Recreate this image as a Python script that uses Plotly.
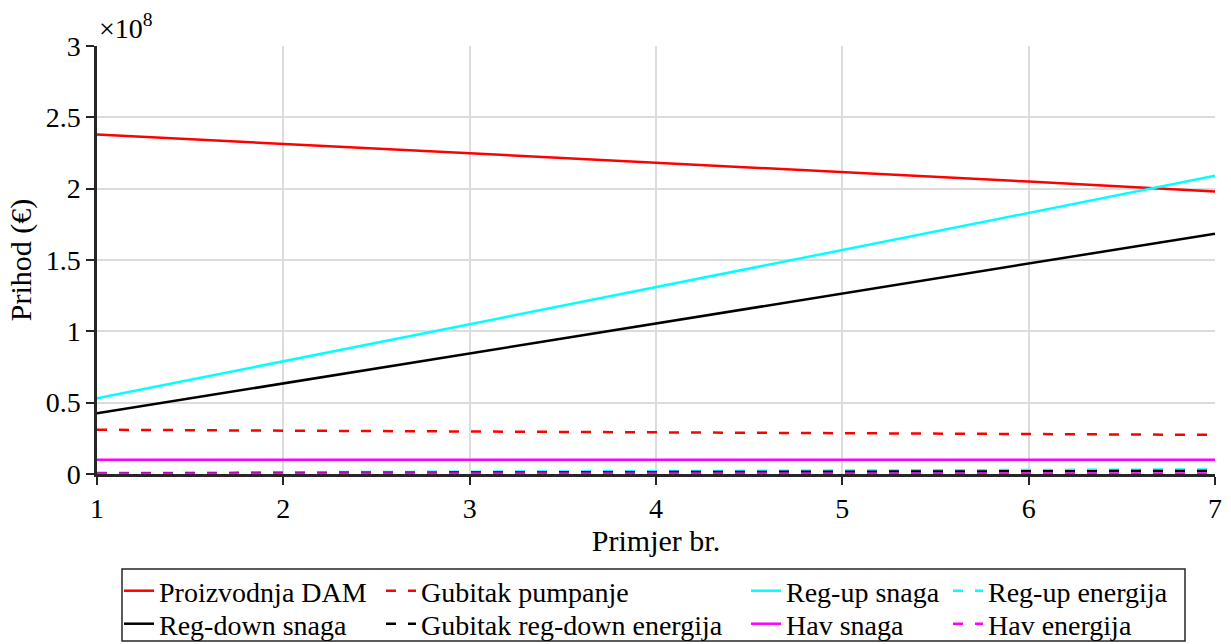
import plotly.graph_objects as go

# x categories
primjer = [1, 2, 3, 4, 5, 6, 7]

# values in units of 1e8 EUR
proizvodnja_dam = [2.38, 2.315, 2.25, 2.18, 2.115, 2.05, 1.98]
gubitak_pumpanje = [0.31, 0.304, 0.298, 0.292, 0.286, 0.28, 0.274]
reg_up_snaga = [0.53, 0.79, 1.05, 1.31, 1.57, 1.83, 2.09]
reg_up_energija = [0.008, 0.012, 0.016, 0.02, 0.024, 0.028, 0.032]
reg_down_snaga = [0.425, 0.635, 0.845, 1.055, 1.265, 1.475, 1.685]
gubitak_reg_down_energija = [0.004, 0.007, 0.01, 0.013, 0.016, 0.019, 0.022]
hav_snaga = [0.1, 0.1, 0.1, 0.1, 0.1, 0.1, 0.1]
hav_energija = [0.004, 0.004, 0.004, 0.004, 0.004, 0.004, 0.004]

y_ticks = [0, 0.5, 1, 1.5, 2, 2.5, 3]
y_ticktext = ["0", "0.5", "1", "1.5", "2", "2.5", "3"]
x_ticks = [1, 2, 3, 4, 5, 6, 7]

FONT = "Liberation Serif"
DASH = "10px,12px"

# plot area geometry (pixels)
L, R, T, B = 97, 16, 46, 170
W, H = 1231, 644
PW, PH = W - L - R, H - T - B

def px_x(p):
    return (p - L) / PW

def px_y(p):
    return (H - B - p) / PH

# legend grid: column left edges and row centres (pixels)
COLS = [119, 381, 746, 948]
ROWS = [591, 624]

series = [
    ("Proizvodnja DAM", proizvodnja_dam, "#ff0000", "solid", 0, 0),
    ("Gubitak pumpanje", gubitak_pumpanje, "#ff0000", DASH, 0, 1),
    ("Reg-up snaga", reg_up_snaga, "#00ffff", "solid", 0, 2),
    ("Reg-up energija", reg_up_energija, "#00ffff", DASH, 0, 3),
    ("Reg-down snaga", reg_down_snaga, "#000000", "solid", 1, 0),
    ("Gubitak reg-down energija", gubitak_reg_down_energija, "#000000", DASH, 1, 1),
    ("Hav snaga", hav_snaga, "#ff00ff", "solid", 1, 2),
    ("Hav energija", hav_energija, "#ff00ff", DASH, 1, 3),
]

fig = go.Figure()
legends = {}
for i, (name, vals, color, dash, row, col) in enumerate(series):
    key = "legend" if i == 0 else f"legend{i + 1}"
    fig.add_trace(go.Scatter(
        x=primjer, y=vals, mode="lines", name=name,
        line=dict(color=color, width=2.5, dash=dash),
        legend=key, showlegend=True,
    ))
    legends[key] = dict(
        orientation="v", yanchor="middle", xanchor="left",
        x=px_x(COLS[col]), y=px_y(ROWS[row]),
        bgcolor="rgba(0,0,0,0)", borderwidth=0,
        font=dict(family=FONT, size=28, color="black"),
        itemwidth=30, visible=True,
    )
fig.update_layout(**legends)

fig.update_layout(
    showlegend=True,
    width=W, height=H,
    margin=dict(l=L, r=R, t=T, b=B, autoexpand=False),
    plot_bgcolor="white", paper_bgcolor="white",
    font=dict(family=FONT, size=28, color="black"),
    xaxis=dict(
        range=[1, 7], tickvals=x_ticks, showgrid=True, gridcolor="#dcdcdc", gridwidth=1.5,
        showline=True, linecolor="#262626", linewidth=2.5, ticks="outside", ticklen=8,
        tickwidth=2, tickcolor="#262626", zeroline=False,
        title=dict(text="Primjer br.", font=dict(size=30), standoff=4),
        tickfont=dict(size=28),
    ),
    yaxis=dict(
        range=[0, 3], tickvals=y_ticks, ticktext=y_ticktext, showgrid=True,
        gridcolor="#dcdcdc", gridwidth=1.5,
        showline=True, linecolor="#262626", linewidth=2.5, ticks="outside", ticklen=8,
        tickwidth=2, tickcolor="#262626", zeroline=False,
        title=dict(text="Prihod (€)", font=dict(size=30), standoff=6),
        tickfont=dict(size=28),
    ),
    shapes=[dict(
        type="rect", xref="paper", yref="paper",
        x0=px_x(122), x1=px_x(1185), y0=px_y(641), y1=px_y(569),
        line=dict(color="#262626", width=1.5), fillcolor="rgba(0,0,0,0)",
    )],
    annotations=[dict(
        text="×10<sup>8</sup>", xref="paper", yref="paper", x=0, y=1,
        xanchor="left", yanchor="bottom", showarrow=False,
        font=dict(family=FONT, size=28, color="black"), xshift=0, yshift=0,
    )],
)

fig.write_html(
    "out.html",
    config={"displayModeBar": False},
    post_script="document.body.style.margin='0';document.body.style.overflow='hidden';",
)
